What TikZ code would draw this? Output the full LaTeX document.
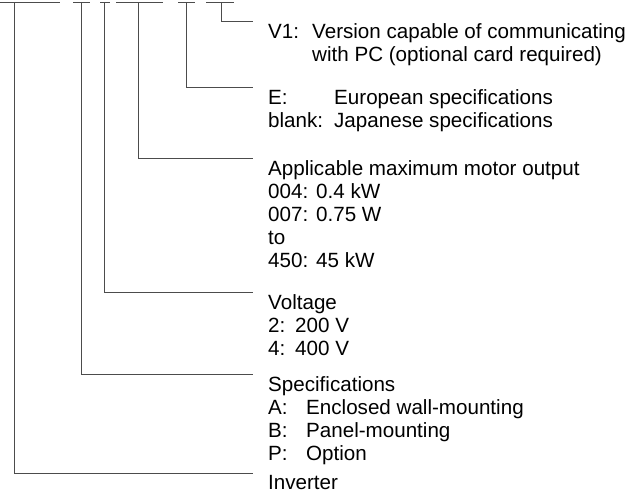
\documentclass[tikz,border=0pt]{standalone}
\usepackage{fontspec}
\setmainfont{Liberation Sans}
\begin{document}
\begin{tikzpicture}[x=1pt,y=-1pt,
  conn/.style={draw=black!70, line width=0.9pt},
  lbl/.style={anchor=north west, inner sep=0pt, align=left,
              font=\fontsize{20.6}{23}\selectfont}]
\useasboundingbox (0,0) rectangle (631,493);
% label groups
\node[lbl] (v1) at (268,23) {\makebox[44pt][l]{V1:}Version capable of communicating\\
  \hspace*{44pt}with PC (optional card required)};
\node[lbl] (eu) at (268,89) {\makebox[66pt][l]{E:}European specifications\\
  \makebox[66pt][l]{blank:}Japanese specifications};
\node[lbl] (mo) at (268,160) {Applicable maximum motor output\\
  \makebox[48pt][l]{004:}0.4 kW\\
  \makebox[48pt][l]{007:}0.75 W\\
  to\\
  \makebox[48pt][l]{450:}45 kW};
\node[lbl] (vo) at (268,294) {Voltage\\
  \makebox[27pt][l]{2:}200 V\\
  \makebox[27pt][l]{4:}400 V};
\node[lbl] (sp) at (268,376) {Specifications\\
  \makebox[38pt][l]{A:}Enclosed wall-mounting\\
  \makebox[38pt][l]{B:}Panel-mounting\\
  \makebox[38pt][l]{P:}Option};
\node[lbl] (in) at (268,475) {Inverter};
% top code segments
\draw[conn] (0,2.5) -- (60,2.5);
\draw[conn] (73,2.5) -- (90,2.5);
\draw[conn] (100,2.5) -- (110,2.5);
\draw[conn] (116,2.5) -- (163,2.5);
\draw[conn] (178,2.5) -- (195,2.5);
\draw[conn] (206,2.5) -- (234,2.5);
\coordinate (s1) at (14,2.5);
\coordinate (s2) at (81,2.5);
\coordinate (s3) at (104,2.5);
\coordinate (s4) at (138,2.5);
\coordinate (s5) at (186,2.5);
\coordinate (s6) at (221,2.5);
% connectors
\draw[conn] (s6) |- ([shift={(-15,-2)}]v1.north west);
\draw[conn] (s5) |- ([shift={(-15,-2)}]eu.north west);
\draw[conn] (s4) |- ([shift={(-15,-2)}]mo.north west);
\draw[conn] (s3) |- ([shift={(-15,-2)}]vo.north west);
\draw[conn] (s2) |- ([shift={(-15,-2)}]sp.north west);
\draw[conn] (s1) |- ([shift={(-15,-2)}]in.north west);
\end{tikzpicture}
\end{document}
